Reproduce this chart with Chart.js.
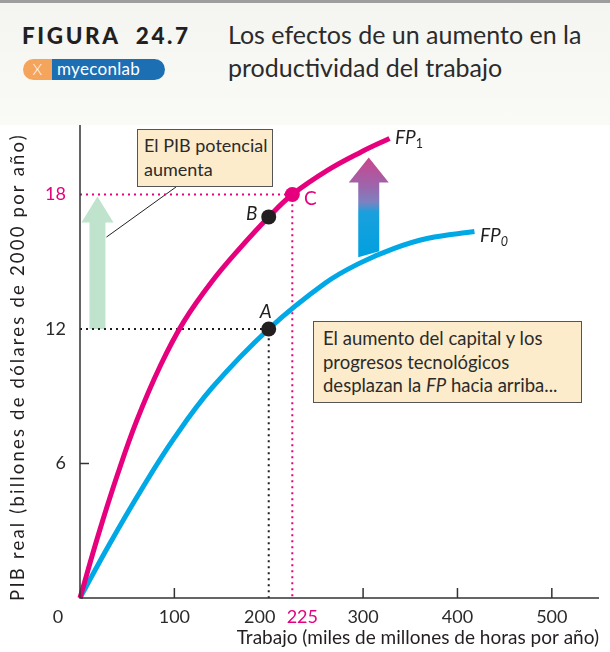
<!DOCTYPE html>
<html>
<head>
<meta charset="utf-8">
<script src="https://cdn.jsdelivr.net/npm/chart.js@4.4.1/dist/chart.umd.min.js"></script>
<style>
  html, body { margin:0; padding:0; background:#ffffff; }
  body { width:610px; height:652px; position:relative; overflow:hidden; font-family:Lato, "Open Sans", sans-serif; color:#231f20; }
  #hdr { position:absolute; left:0; top:0; width:610px; height:125px; background:linear-gradient(#f4f4f0, #fafaf7); }
  #bar { position:absolute; left:0; top:0; width:610px; height:3px; background:#9d9d9d; }
  #fig { position:absolute; left:22px; top:22px; font-size:22.5px; font-weight:900; letter-spacing:2.6px; color:#231f20; white-space:nowrap; }
  #ttl { position:absolute; left:228px; top:18px; font-size:25px; line-height:33px; color:#2b2b2b; white-space:nowrap; }
  #logo { position:absolute; left:23px; top:59px; width:142px; height:21px; border-radius:11px; overflow:hidden; display:flex; }
  #logo .o { width:29px; background:#f5a45c; color:#fff; font-size:15px; line-height:21px; text-align:center; font-weight:300; }
  #logo .b { flex:1; background:#1d6fb4; color:#fff; font-size:17px; line-height:20px; padding-left:5px; letter-spacing:0.3px; }
  canvas { position:absolute; left:0; top:0; }
  .box { position:absolute; background:#fdeccb; border:1.5px solid #555; box-sizing:border-box; font-size:18.5px; color:#2b2b2b; white-space:nowrap; z-index:3; }
  #box1 { left:137px; top:129px; width:136px; height:58px; padding:3px 0 0 6px; line-height:24px; font-size:18px; }
  #box2 { left:313px; top:321px; width:269px; height:82px; padding:5px 0 0 9px; line-height:23.5px; }
  .fp { position:absolute; font-size:19px; font-style:italic; color:#231f20; z-index:3; white-space:nowrap; }
  .fp sub { font-size:12.5px; font-style:normal; vertical-align:-4px; }
</style>
</head>
<body>
<div id="hdr"><div id="bar"></div>
  <div id="fig">FIGURA&nbsp;&nbsp;24.7</div>
  <div id="logo"><span class="o">X</span><span class="b">myeconlab</span></div>
  <div id="ttl">Los efectos de un aumento en la<br>productividad del trabajo</div>
</div>
<canvas id="c" width="610" height="652"></canvas>
<div class="box" id="box1">El PIB potencial<br>aumenta</div>
<div class="box" id="box2">El aumento del capital y los<br>progresos tecnológicos<br>desplazan la <i>FP</i> hacia arriba...</div>
<div class="fp" style="left:395px;top:125px;">FP<sub>1</sub></div>
<div class="fp" style="left:480px;top:223px;">FP<sub style="font-style:italic">0</sub></div>
<script>
// ---- data ----
const fp0Labor = [0, 30, 65, 100, 140, 200, 260, 297, 333, 369, 418];
const fp0Gdp   = [0, 2.31, 4.83, 7.14, 9.38, 12.0, 14.05, 14.95, 15.6, 16.05, 16.35];
const fp1Labor = [0, 20, 40, 60, 85, 110, 140, 170, 200, 225, 263, 298, 328];
const fp1Gdp   = [0, 2.9, 5.54, 7.9, 10.35, 12.33, 14.13, 15.63, 17.0, 18.0, 19.1, 19.9, 20.5];
const pointNames = ['A', 'B', 'C'];
const pointLabor = [200, 200, 225];
const pointGdp   = [12, 17, 18];
const xTickValues = [0, 100, 200, 225, 300, 400, 500];
const xTickLabels = ['0', '100', '200', '225', '300', '400', '500'];
const yTickValues = [6, 12, 18];
const yTickLabels = ['6', '12', '18'];
const xTitle = 'Trabajo (miles de millones de horas por año)';
const yTitle = 'PIB real (billones de dólares de 2000 por año)';

const MAG = '#e6007e', BLUE = '#00a8e6', INK = '#231f20';
const toXY = (xs, ys) => xs.map((x, i) => ({x: x, y: ys[i]}));

const annot = {
  id: 'annot',
  beforeDatasetsDraw(chart) {
    const ctx = chart.ctx, xs = chart.scales.x, ys = chart.scales.y;
    ctx.save();
    // green arrow (potential GDP rises from 12 to 18)
    const gx = xs.getPixelForValue(18.5), gb = ys.getPixelForValue(12), gt = ys.getPixelForValue(18) + 2;
    ctx.fillStyle = '#bfe3cd';
    ctx.beginPath();
    ctx.moveTo(gx - 8, gb); ctx.lineTo(gx - 8, gt + 26); ctx.lineTo(gx - 16, gt + 26);
    ctx.lineTo(gx, gt); ctx.lineTo(gx + 16, gt + 26); ctx.lineTo(gx + 8, gt + 26); ctx.lineTo(gx + 8, gb);
    ctx.closePath(); ctx.fill();
    // gradient arrow (shift of FP)
    const ax = xs.getPixelForValue(306), at = ys.getPixelForValue(19.65), ab = ys.getPixelForValue(15.2);
    const g = ctx.createLinearGradient(0, at, 0, ab);
    g.addColorStop(0, '#cb458e'); g.addColorStop(0.3, '#9a67ac'); g.addColorStop(0.45, '#7c82c2');
    g.addColorStop(0.55, '#1aa0dd'); g.addColorStop(1, '#00a0e0');
    ctx.fillStyle = g;
    ctx.beginPath();
    ctx.moveTo(ax - 10.5, ab); ctx.lineTo(ax - 10.5, at + 25); ctx.lineTo(ax - 20, at + 25);
    ctx.lineTo(ax, at); ctx.lineTo(ax + 20, at + 25); ctx.lineTo(ax + 10.5, at + 25); ctx.lineTo(ax + 10.5, ab - 6);
    ctx.closePath(); ctx.fill();
    // leader line from box to green arrow
    ctx.strokeStyle = '#222'; ctx.lineWidth = 1;
    ctx.beginPath(); ctx.moveTo(176, 187); ctx.lineTo(gx + 9, ys.getPixelForValue(16.1)); ctx.stroke();
    ctx.restore();
  },
  afterDraw(chart) {
    const ctx = chart.ctx, xs = chart.scales.x, ys = chart.scales.y, a = chart.chartArea;
    ctx.save();
    // axes
    ctx.strokeStyle = '#333'; ctx.lineWidth = 1.5;
    ctx.beginPath(); ctx.moveTo(a.left, a.top); ctx.lineTo(a.left, a.bottom); ctx.lineTo(a.right, a.bottom); ctx.stroke();
    // tick marks
    [100, 300, 400, 500].forEach(v => {
      const p = xs.getPixelForValue(v);
      ctx.beginPath(); ctx.moveTo(p, a.bottom); ctx.lineTo(p, a.bottom - 10); ctx.stroke();
    });
    const p6 = ys.getPixelForValue(6);
    ctx.beginPath(); ctx.moveTo(a.left, p6); ctx.lineTo(a.left + 9, p6); ctx.stroke();
    // tick labels
    ctx.font = '18px Lato, sans-serif'; ctx.textBaseline = 'middle';
    const xOff = {'0': -22, '200': -9, '225': 10};
    ctx.textAlign = 'center';
    xTickValues.forEach((v, i) => {
      const lab = xTickLabels[i];
      ctx.fillStyle = (v === 225) ? MAG : '#2b2b2b';
      ctx.fillText(lab, xs.getPixelForValue(v) + (xOff[lab] || 0), a.bottom + 19);
    });
    ctx.textAlign = 'right';
    yTickValues.forEach((v, i) => {
      ctx.fillStyle = (v === 18) ? MAG : '#2b2b2b';
      ctx.fillText(yTickLabels[i], a.left - 14, ys.getPixelForValue(v));
    });
    // axis titles
    ctx.fillStyle = INK;
    ctx.font = '19px Lato, sans-serif';
    ctx.textAlign = 'right';
    ctx.fillText(xTitle, a.right, a.bottom + 40);
    ctx.font = '18.5px Lato, sans-serif';
    if ('letterSpacing' in ctx) ctx.letterSpacing = '2.2px';
    ctx.translate(18, 367); ctx.rotate(-Math.PI / 2);
    ctx.textAlign = 'center';
    ctx.fillText(yTitle, 0, 0);
    ctx.setTransform(1, 0, 0, 1, 0, 0);
    if ('letterSpacing' in ctx) ctx.letterSpacing = '0px';
    // point labels
    const offs = [[-3, -17], [-17, -3], [18, 4]];
    pointNames.forEach((n, i) => {
      const px = xs.getPixelForValue(pointLabor[i]), py = ys.getPixelForValue(pointGdp[i]);
      ctx.fillStyle = n === 'C' ? MAG : INK;
      ctx.font = (n === 'C' ? '' : 'italic ') + '19px Lato, sans-serif';
      ctx.textAlign = 'center';
      ctx.fillText(n, px + offs[i][0], py + offs[i][1]);
    });
    ctx.restore();
  }
};

new Chart(document.getElementById('c'), {
  type: 'scatter',
  data: {
    datasets: [
      { label: 'puntos', data: toXY(pointLabor, pointGdp), order: 0, showLine: false,
        pointRadius: 7.5, pointHoverRadius: 7.5, pointBorderWidth: 0,
        pointBackgroundColor: pointNames.map(n => n === 'C' ? MAG : INK), clip: false },
      { label: 'FP1', data: toXY(fp1Labor, fp1Gdp), order: 1, showLine: true, borderColor: MAG,
        borderWidth: 5, pointRadius: 0, tension: 0.4, clip: false },
      { label: 'FP0', data: toXY(fp0Labor, fp0Gdp), order: 1, showLine: true, borderColor: BLUE,
        borderWidth: 5, pointRadius: 0, tension: 0.4, clip: false },
      { label: 'guiaA', data: [{x: 0, y: pointGdp[0]}, {x: pointLabor[0], y: pointGdp[0]}, {x: pointLabor[0], y: 0}],
        order: 2, showLine: true, borderColor: INK, borderWidth: 2, borderDash: [2, 4], pointRadius: 0, tension: 0 },
      { label: 'guiaC', data: [{x: 0, y: pointGdp[2]}, {x: pointLabor[2], y: pointGdp[2]}, {x: pointLabor[2], y: 0}],
        order: 2, showLine: true, borderColor: MAG, borderWidth: 2, borderDash: [2, 4], pointRadius: 0, tension: 0 }
    ]
  },
  options: {
    responsive: false, animation: false, devicePixelRatio: 1,
    layout: { padding: { left: 80, right: 11, top: 125, bottom: 54 } },
    plugins: { legend: { display: false }, tooltip: { enabled: false } },
    scales: {
      x: { type: 'linear', min: 0, max: 550, display: false },
      y: { type: 'linear', min: 0, max: 21.1, display: false }
    }
  },
  plugins: [annot]
});
</script>
</body>
</html>
